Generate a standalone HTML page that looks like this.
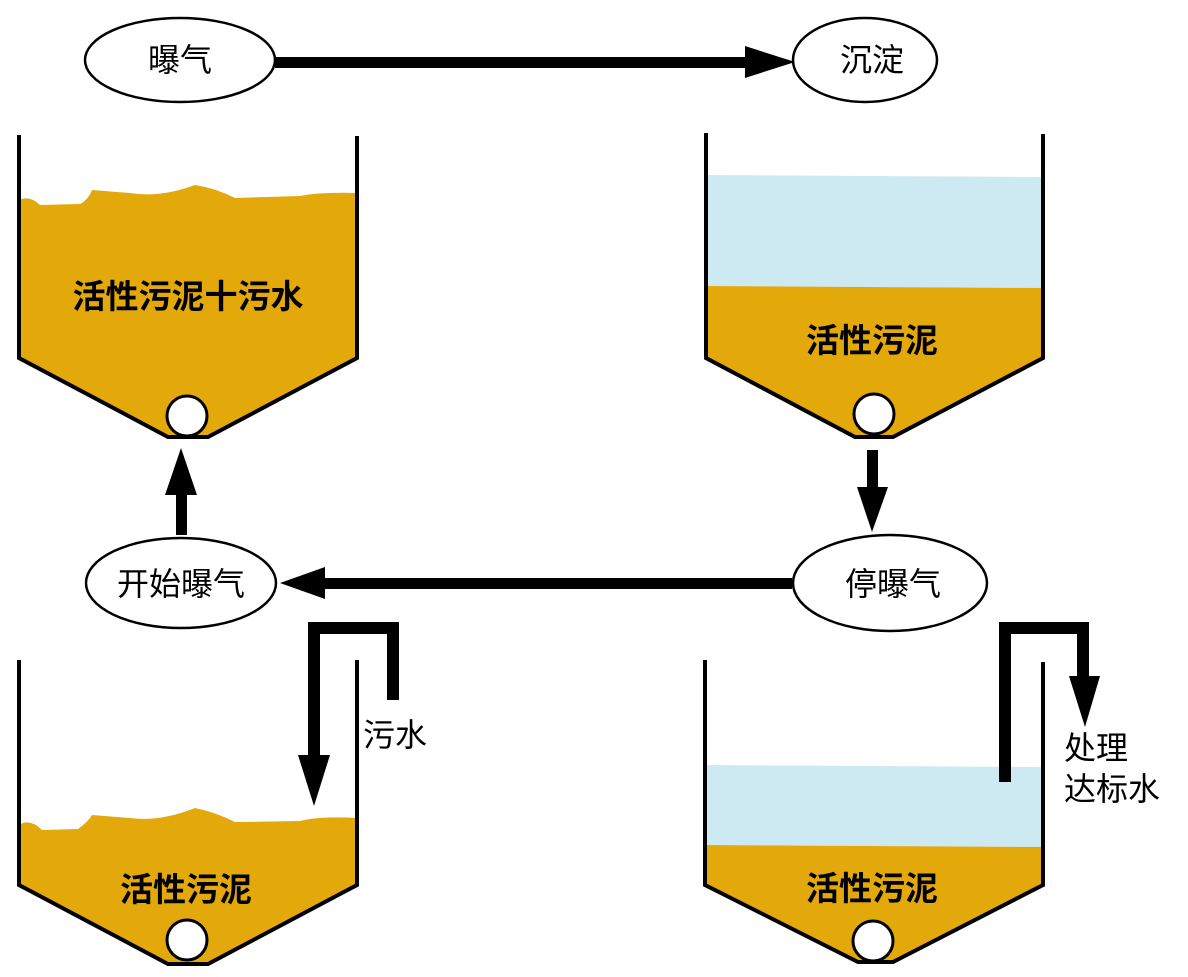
<!DOCTYPE html>
<html><head><meta charset="utf-8"><style>body{margin:0;background:#fff}svg{display:block}</style></head><body>
<svg width="1188" height="977" xmlns="http://www.w3.org/2000/svg" font-family="Liberation Sans, Noto Sans CJK SC, sans-serif">
<path d="M19,200 Q30,195 40,205 L80,204 Q88,200 92,190 L130,193 Q160,198 195,185 Q215,188 235,198 L300,196 Q320,192 357,193 L357,358 L208,437 L168,437 L19,358 Z" fill="#e3a80a"/>
<path d="M19,135 L19,358 L168,437 L208,437 L357,358 L357,136" fill="none" stroke="#000" stroke-width="4"/>
<circle cx="187" cy="416" r="20" fill="#fff" stroke="#000" stroke-width="3"/>
<text x="188" y="308" font-size="33" font-weight="bold" text-anchor="middle">活性污泥十污水</text>
<path d="M706,175 L1043,177 L1043,288 L706,286 Z" fill="#cde9f1"/>
<path d="M706,286 L1043,288 L1043,358 L893,437 L855,437 L706,358 Z" fill="#e3a80a"/>
<path d="M706,133 L706,358 L855,437 L893,437 L1043,358 L1043,134" fill="none" stroke="#000" stroke-width="4"/>
<circle cx="874" cy="414" r="20" fill="#fff" stroke="#000" stroke-width="3"/>
<text x="872" y="352" font-size="33" font-weight="bold" text-anchor="middle">活性污泥</text>
<path d="M19,825 Q30,818 42,830 L78,829 Q88,822 92,815 L130,818 Q160,822 195,808 Q215,812 235,822 L300,821 Q320,816 357,818 L357,885 L208,964 L168,964 L19,885 Z" fill="#e3a80a"/>
<path d="M19,660 L19,885 L168,964 L208,964 L357,885 L357,660" fill="none" stroke="#000" stroke-width="4"/>
<circle cx="187" cy="940" r="20" fill="#fff" stroke="#000" stroke-width="3"/>
<text x="186" y="901" font-size="33" font-weight="bold" text-anchor="middle">活性污泥</text>
<path d="M706,765 L1043,767 L1043,847 L706,845 Z" fill="#cde9f1"/>
<path d="M706,845 L1043,847 L1043,885 L893,962 L858,962 L706,885 Z" fill="#e3a80a"/>
<path d="M705,660 L705,885 L858,962 L893,962 L1043,885 L1043,662" fill="none" stroke="#000" stroke-width="4"/>
<circle cx="873" cy="941" r="20" fill="#fff" stroke="#000" stroke-width="3"/>
<text x="872" y="900" font-size="33" font-weight="bold" text-anchor="middle">活性污泥</text>
<g fill="#fff" stroke="#000" stroke-width="2.5">
<ellipse cx="180" cy="60" rx="95" ry="42"/>
<ellipse cx="865" cy="60" rx="72" ry="42"/>
<ellipse cx="181" cy="583" rx="95" ry="45"/>
<ellipse cx="890" cy="583" rx="97" ry="48"/>
</g>
<g font-size="32" text-anchor="middle">
<text x="180" y="71">曝气</text>
<text x="872" y="71">沉淀</text>
<text x="181" y="595">开始曝气</text>
<text x="893" y="595">停曝气</text>
</g>
<g fill="#000">
<rect x="275" y="57" width="475" height="11"/>
<polygon points="745,46 795,62 745,78"/>
<rect x="318" y="578" width="474" height="11"/>
<polygon points="325,567 280,583 325,599"/>
<rect x="176" y="490" width="11" height="45"/>
<polygon points="165,495 181,448 197,495"/>
<rect x="867" y="450" width="11" height="40"/>
<polygon points="857,487 872,532 888,487"/>
<rect x="387" y="622" width="12" height="78"/>
<rect x="308" y="622" width="91" height="12"/>
<rect x="308" y="622" width="12" height="138"/>
<polygon points="298,755 314,806 330,755"/>
<rect x="999" y="622" width="12" height="160"/>
<rect x="999" y="622" width="90" height="12"/>
<rect x="1077" y="622" width="12" height="56"/>
<polygon points="1069,676 1085,727 1100,676"/>
</g>
<g font-size="32">
<text x="363" y="746">污水</text>
<text x="1064" y="759">处理</text>
<text x="1064" y="800">达标水</text>
</g>
</svg>
</body></html>
